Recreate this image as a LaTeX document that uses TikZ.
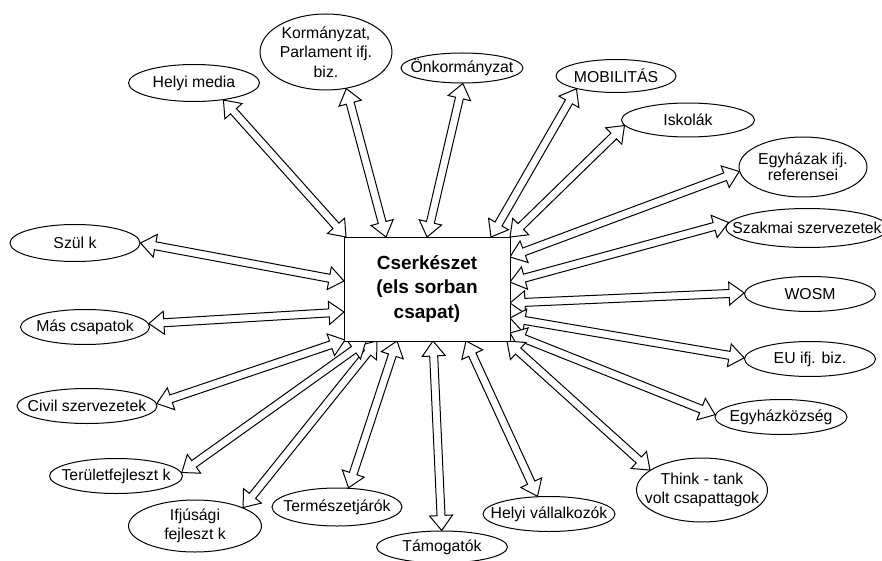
\documentclass[tikz,border=0pt]{standalone}
\usepackage{fontspec}
\setmainfont{Liberation Sans}
\usetikzlibrary{calc,shapes.geometric,backgrounds}
\newcommand\ctr[1]{\makebox[0pt]{#1}}
\def\ahl{15}\def\ahw{11.5}\def\asw{4}
\newcommand\dbarrow[2]{%
  \draw[blockarrow] let \p1=(#1), \p2=(#2),
    \n1={atan2(\y2-\y1,\x2-\x1)}, \n2={veclen(\x2-\x1,\y2-\y1)} in
    [shift={(\p1)}, rotate=\n1]
    (0,0) -- (\ahl,\ahw) -- (\ahl,\asw) -- ({\n2-\ahl},\asw) -- ({\n2-\ahl},\ahw)
    -- (\n2,0) -- ({\n2-\ahl},-\ahw) -- ({\n2-\ahl},-\asw) -- (\ahl,-\asw)
    -- (\ahl,-\ahw) -- cycle;}
\begin{document}
\begin{tikzpicture}[x=1pt,y=-1pt,
  ell/.style={ellipse, draw, line width=1pt, fill=white, inner sep=0pt, align=center,
    font=\fontsize{15.8}{19.5}\selectfont},
  blockarrow/.style={draw, line width=1pt, fill=white, line join=miter}]
\useasboundingbox (0,0) rectangle (882,561);

\node[draw, line width=1pt, fill=white, minimum width=166pt, minimum height=104pt,
  inner sep=0pt, align=center, font=\fontsize{19}{24.5}\selectfont\bfseries]
  (box) at (427,289) {Cserkészet\\(els sorban\\csapat)};

\node[ell, minimum width=131pt, minimum height=37pt] (hm) at (194,83) {\ctr{Helyi media}};
\node[ell, minimum width=132pt, minimum height=76pt] (kp) at (326,52) {\ctr{Kormányzat,}\\\ctr{Parlament ifj.}\\\ctr{biz.}};
\node[ell, minimum width=122pt, minimum height=30pt] (ok) at (462,68) {\ctr{Önkormányzat}};
\node[ell, minimum width=120pt, minimum height=33pt] (mob) at (616,76) {\ctr{MOBILITÁS}};
\node[ell, minimum width=133pt, minimum height=34pt] (isk) at (688,120) {\ctr{Iskolák}};
\node[ell, minimum width=128pt, minimum height=60pt] (egy) at (803,167) {\ctr{Egyházak ifj.}\\[-4pt]\ctr{referensei}};
\node[ell, minimum width=162pt, minimum height=39pt] (szak) at (807,228) {\ctr{Szakmai szervezetek}};
\node[ell, minimum width=131pt, minimum height=35pt] (wosm) at (810,294) {\ctr{WOSM}};
\node[ell, minimum width=131pt, minimum height=35pt] (eu) at (810,359) {\ctr{EU ifj. biz.}};
\node[ell, minimum width=132pt, minimum height=35pt] (egyk) at (781,417) {\ctr{Egyházközség}};
\node[ell, minimum width=131pt, minimum height=64pt] (think) at (702,490) {\ctr{Think - tank}\\[-1pt]\ctr{volt csapattagok}};
\node[ell, minimum width=132pt, minimum height=35pt] (hv) at (549,514) {\ctr{Helyi vállalkozók}};
\node[ell, minimum width=131pt, minimum height=32pt] (tam) at (442,547) {\ctr{Támogatók}};
\node[ell, minimum width=130pt, minimum height=38pt] (term) at (337,507) {\ctr{Természetjárók}};
\node[ell, minimum width=133pt, minimum height=52pt] (ifj) at (195,526) {\ctr{Ifjúsági}\\\ctr{fejleszt k}};
\node[ell, minimum width=133pt, minimum height=35pt] (ter) at (116,476) {\ctr{Területfejleszt k}};
\node[ell, minimum width=140pt, minimum height=35pt] (civ) at (87,406) {\ctr{Civil szervezetek}};
\node[ell, minimum width=129pt, minimum height=35pt] (mas) at (85,327) {\ctr{Más csapatok}};
\node[ell, minimum width=130pt, minimum height=37pt] (szul) at (75,243) {\ctr{Szül k}};

\coordinate (bhm) at (346,237);
\coordinate (bkp) at (386,237);
\coordinate (bok) at (427,237);
\coordinate (bmob) at (491,237);
\coordinate (bisk) at (510,237);
\coordinate (begy) at (510,257);
\coordinate (bszak) at (510,282);
\coordinate (bwosm) at (510,303);
\coordinate (beu) at (510,318);
\coordinate (begyk) at (510,333);
\coordinate (bthink) at (507,341);
\coordinate (bhv) at (466,341);
\coordinate (btam) at (433,341);
\coordinate (bterm) at (397,341);
\coordinate (bifj) at (377,341);
\coordinate (bter) at (366,341);
\coordinate (bciv) at (345,340);
\coordinate (bmas) at (344,312);
\coordinate (bszul) at (344,281);

\begin{pgfonlayer}{background}
\fill[white] (0,0) rectangle (882,561);
\dbarrow{bhm}{hm.-30}
\dbarrow{bkp}{kp.-61}
\dbarrow{bok}{ok.-87}
\dbarrow{bmob}{mob.-162}
\dbarrow{bisk}{isk.-175}
\dbarrow{begy}{egy.-176}
\dbarrow{bszak}{szak.176}
\dbarrow{bwosm}{wosm.179}
\dbarrow{beu}{eu.179}
\dbarrow{begyk}{egyk.178}
\dbarrow{bthink}{think.159}
\dbarrow{bhv}{hv.123}
\dbarrow{btam}{tam.91}
\dbarrow{bterm}{term.59}
\dbarrow{bifj}{ifj.21}
\dbarrow{bter}{ter.3.5}
\dbarrow{bciv}{civ.2}
\dbarrow{bmas}{mas.3}
\dbarrow{bszul}{szul.0}
\end{pgfonlayer}
\end{tikzpicture}
\end{document}
